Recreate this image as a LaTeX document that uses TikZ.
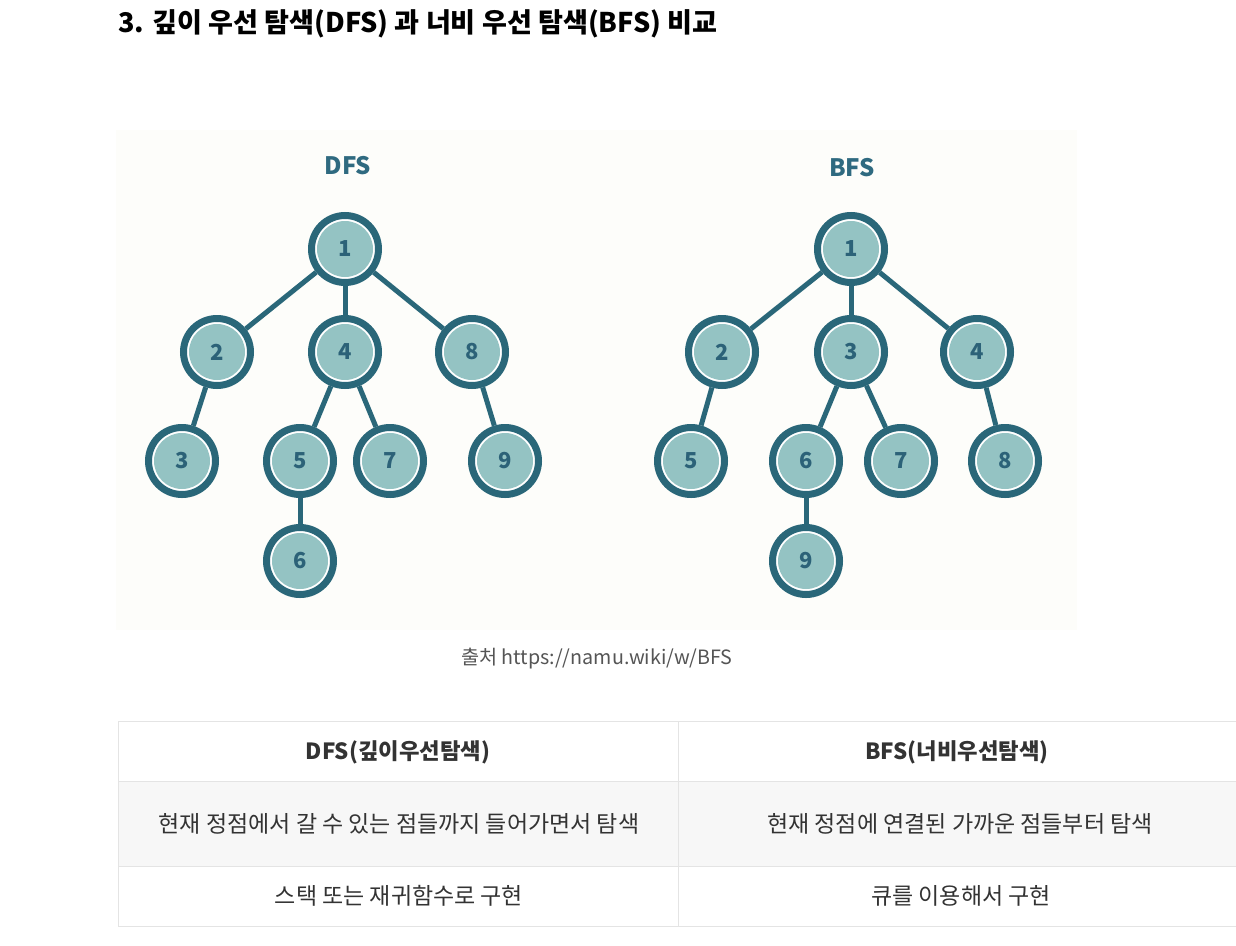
\documentclass[tikz,border=0pt]{standalone}
\usepackage{fontspec}
\setmainfont{Noto Sans CJK KR}
\definecolor{ring}{RGB}{42,103,121}
\definecolor{tfill}{RGB}{148,195,195}
\definecolor{numc}{RGB}{44,98,120}
\definecolor{headc}{RGB}{47,106,128}
\definecolor{bgimg}{RGB}{253,253,250}
\definecolor{gridc}{RGB}{228,228,228}
\definecolor{rowbg}{RGB}{247,247,247}
\definecolor{txt}{RGB}{51,51,51}
\definecolor{capc}{RGB}{85,85,85}
\tikzset{
  tnode/.style={circle, draw=ring, line width=7pt, fill=white, minimum size=67pt, inner sep=0pt,
    font=\fontsize{22}{22}\selectfont\bfseries, text=numc,
    path picture={\fill[tfill] (path picture bounding box.center) circle (28pt);}},
  tedge/.style={draw=ring, line width=5pt},
  treetitle/.style={font=\fontsize{24}{24}\selectfont\bfseries, text=headc},
  cell/.style={font=\fontsize{23}{23}\selectfont, text=txt},
  headcell/.style={font=\fontsize{22.3}{22.3}\selectfont\bfseries, text=txt},
  gridline/.style={draw=gridc, line width=1pt}
}
\begin{document}
\begin{tikzpicture}[x=1pt,y=-1pt]
\useasboundingbox[fill=white] (0,0) rectangle (1236,945);
% title
\node[anchor=base west, inner sep=0pt, font=\fontsize{27.1}{27.1}\selectfont\bfseries, text=black] (title) at (118,32) {3. 깊이 우선 탐색(DFS) 과 너비 우선 탐색(BFS) 비교};
% image background
\fill[bgimg] (116,130) rectangle (1077,630);
\node[treetitle] (tdfs) at (348,166) {DFS};
\node[treetitle] (tbfs) at (852,168) {BFS};
% DFS tree
\node[tnode] (d1) at (345,249) {1};
\node[tnode] (d2) at (217,352) {2};
\node[tnode] (d4) at (345,352) {4};
\node[tnode] (d8) at (472,352) {8};
\node[tnode] (d3) at (182,461) {3};
\node[tnode] (d5) at (300,461) {5};
\node[tnode] (d7) at (390,461) {7};
\node[tnode] (d9) at (505,461) {9};
\node[tnode] (d6) at (300,561) {6};
\draw[tedge] (d1) -- (d2);
\draw[tedge] (d1) -- (d4);
\draw[tedge] (d1) -- (d8);
\draw[tedge] (d2) -- (d3);
\draw[tedge] (d4) -- (d5);
\draw[tedge] (d4) -- (d7);
\draw[tedge] (d8) -- (d9);
\draw[tedge] (d5) -- (d6);
% BFS tree
\node[tnode] (b1) at (851,249) {1};
\node[tnode] (b2) at (722,352) {2};
\node[tnode] (b3) at (851,352) {3};
\node[tnode] (b4) at (977,352) {4};
\node[tnode] (b5) at (691,461) {5};
\node[tnode] (b6) at (806,461) {6};
\node[tnode] (b7) at (901,461) {7};
\node[tnode] (b8) at (1005,461) {8};
\node[tnode] (b9) at (806,561) {9};
\draw[tedge] (b1) -- (b2);
\draw[tedge] (b1) -- (b3);
\draw[tedge] (b1) -- (b4);
\draw[tedge] (b2) -- (b5);
\draw[tedge] (b3) -- (b6);
\draw[tedge] (b3) -- (b7);
\draw[tedge] (b4) -- (b8);
\draw[tedge] (b6) -- (b9);
% caption
\node[font=\fontsize{19.7}{19.7}\selectfont, text=capc] (cap) at (597,659) {출처 https://namu.wiki/w/BFS};
% table
\fill[rowbg] (118,781) rectangle (1236,866);
\draw[gridline] (118,721) -- (1236,721);
\draw[gridline] (118,781) -- (1236,781);
\draw[gridline] (118,866) -- (1236,866);
\draw[gridline] (118,926) -- (1236,926);
\draw[gridline] (118,721) -- (118,926);
\draw[gridline] (678,721) -- (678,926);
\node[headcell] (h1) at (398,752) {DFS(깊이우선탐색)};
\node[headcell] (h2) at (957,752) {BFS(너비우선탐색)};
\node[cell] (r1) at (399,824) {현재 정점에서 갈 수 있는 점들까지 들어가면서 탐색};
\node[cell] (r2) at (960,824) {현재 정점에 연결된 가까운 점들부터 탐색};
\node[cell] (r3) at (399,896) {스택 또는 재귀함수로 구현};
\node[cell] (r4) at (961,896) {큐를 이용해서 구현};
\end{tikzpicture}
\end{document}
